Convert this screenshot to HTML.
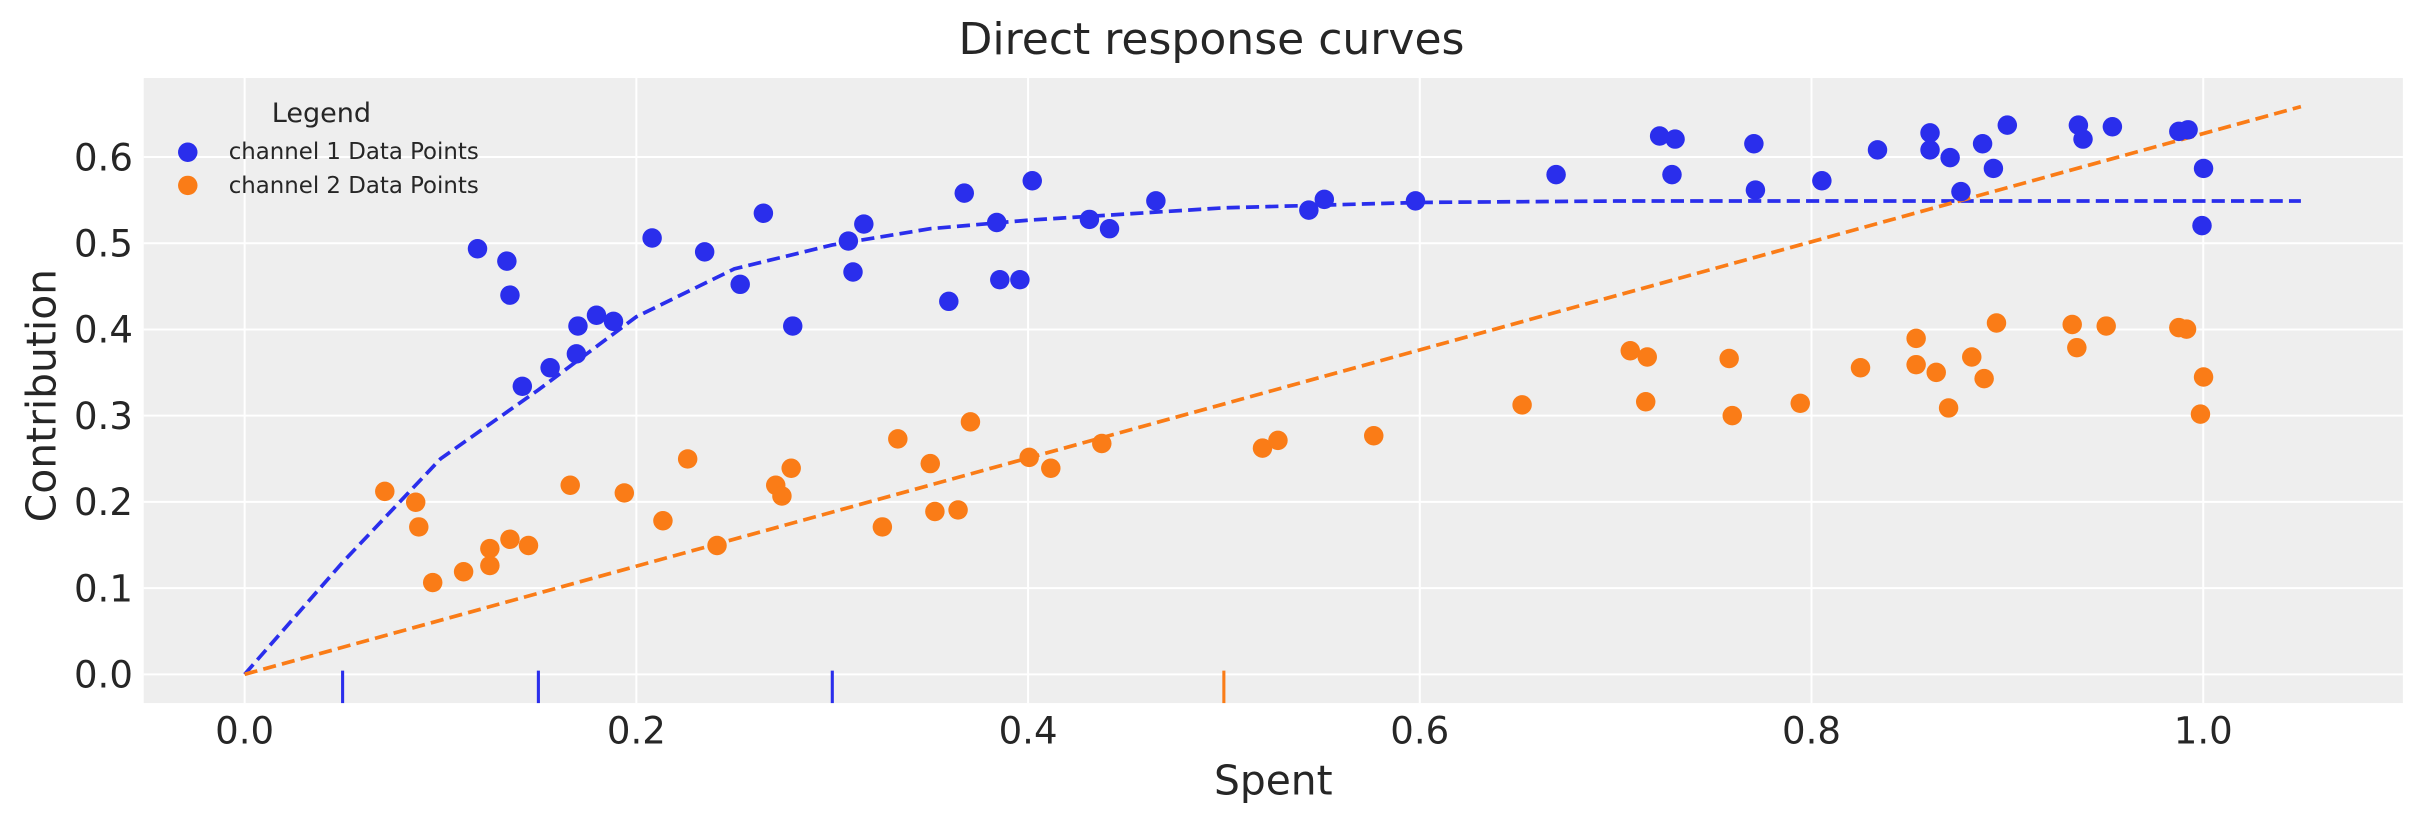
<!DOCTYPE html>
<html><head><meta charset="utf-8"><style>html,body{margin:0;padding:0;background:#fff}svg{display:block}</style></head>
<body>
<svg width="2423" height="823" viewBox="0 0 1568 532.6" xmlns="http://www.w3.org/2000/svg" font-family="'DejaVu Sans','Liberation Sans',sans-serif">
<rect x="0" y="0" width="1568" height="533" fill="#fff"/>
<rect x="93" y="50.5" width="1462" height="404.5" fill="#eeeeee"/>
<g stroke="#fff" stroke-width="1.3">
<line x1="158.3" y1="50.5" x2="158.3" y2="455"/><line x1="411.8" y1="50.5" x2="411.8" y2="455"/><line x1="665.3" y1="50.5" x2="665.3" y2="455"/><line x1="918.8" y1="50.5" x2="918.8" y2="455"/><line x1="1172.3" y1="50.5" x2="1172.3" y2="455"/><line x1="1425.8" y1="50.5" x2="1425.8" y2="455"/>
<line x1="93" y1="436.4" x2="1555" y2="436.4"/><line x1="93" y1="380.6" x2="1555" y2="380.6"/><line x1="93" y1="324.8" x2="1555" y2="324.8"/><line x1="93" y1="269" x2="1555" y2="269"/><line x1="93" y1="213.2" x2="1555" y2="213.2"/><line x1="93" y1="157.4" x2="1555" y2="157.4"/><line x1="93" y1="101.6" x2="1555" y2="101.6"/>
</g>
<g stroke-width="2">
<line x1="221.7" y1="434" x2="221.7" y2="455" stroke="#2a2eec"/><line x1="348.4" y1="434" x2="348.4" y2="455" stroke="#2a2eec"/><line x1="538.6" y1="434" x2="538.6" y2="455" stroke="#2a2eec"/><line x1="792" y1="434" x2="792" y2="455" stroke="#fa7c17"/>
</g>
<polyline fill="none" stroke="#2a2eec" stroke-width="2.4" stroke-dasharray="8.5,4" points="158.3,436.4 221.7,363.9 285.1,296.9 348.4,252.3 411.8,205 475.2,174 538.6,158.5 602,148 665.3,142.5 792,134.5 918.8,131 1045.5,130.1 1489,130.1"/>
<line x1="158.3" y1="436.4" x2="1489" y2="69" stroke="#fa7c17" stroke-width="2.4" stroke-dasharray="8.5,4"/>
<g fill="#2a2eec">
<circle cx="309" cy="161" r="6.3"/><circle cx="328" cy="169" r="6.3"/><circle cx="330" cy="191" r="6.3"/><circle cx="338" cy="250" r="6.3"/><circle cx="356" cy="238" r="6.3"/><circle cx="373" cy="229" r="6.3"/><circle cx="374" cy="211" r="6.3"/><circle cx="386" cy="204" r="6.3"/><circle cx="397" cy="208" r="6.3"/><circle cx="422" cy="154" r="6.3"/><circle cx="456" cy="163" r="6.3"/><circle cx="479" cy="184" r="6.3"/><circle cx="494" cy="138" r="6.3"/><circle cx="513" cy="211" r="6.3"/><circle cx="549" cy="156" r="6.3"/><circle cx="552" cy="176" r="6.3"/><circle cx="559" cy="145" r="6.3"/><circle cx="614" cy="195" r="6.3"/><circle cx="624" cy="125" r="6.3"/><circle cx="645" cy="144" r="6.3"/><circle cx="647" cy="181" r="6.3"/><circle cx="660" cy="181" r="6.3"/><circle cx="668" cy="117" r="6.3"/><circle cx="705" cy="142" r="6.3"/><circle cx="718" cy="148" r="6.3"/><circle cx="748" cy="130" r="6.3"/><circle cx="847" cy="136" r="6.3"/><circle cx="857" cy="129" r="6.3"/><circle cx="916" cy="130" r="6.3"/><circle cx="1007" cy="113" r="6.3"/><circle cx="1074" cy="88" r="6.3"/><circle cx="1082" cy="113" r="6.3"/><circle cx="1084" cy="90" r="6.3"/><circle cx="1135" cy="93" r="6.3"/><circle cx="1136" cy="123" r="6.3"/><circle cx="1179" cy="117" r="6.3"/><circle cx="1215" cy="97" r="6.3"/><circle cx="1249" cy="86" r="6.3"/><circle cx="1249" cy="97" r="6.3"/><circle cx="1262" cy="102" r="6.3"/><circle cx="1269" cy="124" r="6.3"/><circle cx="1283" cy="93" r="6.3"/><circle cx="1290" cy="109" r="6.3"/><circle cx="1299" cy="81" r="6.3"/><circle cx="1345" cy="81" r="6.3"/><circle cx="1348" cy="90" r="6.3"/><circle cx="1367" cy="82" r="6.3"/><circle cx="1410" cy="85" r="6.3"/><circle cx="1416" cy="84" r="6.3"/><circle cx="1426" cy="109" r="6.3"/><circle cx="1425" cy="146" r="6.3"/>
</g>
<g fill="#fa7c17">
<circle cx="249" cy="318" r="6.3"/><circle cx="269" cy="325" r="6.3"/><circle cx="271" cy="341" r="6.3"/><circle cx="280" cy="377" r="6.3"/><circle cx="300" cy="370" r="6.3"/><circle cx="317" cy="355" r="6.3"/><circle cx="317" cy="366" r="6.3"/><circle cx="330" cy="349" r="6.3"/><circle cx="342" cy="353" r="6.3"/><circle cx="369" cy="314" r="6.3"/><circle cx="404" cy="319" r="6.3"/><circle cx="429" cy="337" r="6.3"/><circle cx="445" cy="297" r="6.3"/><circle cx="464" cy="353" r="6.3"/><circle cx="502" cy="314" r="6.3"/><circle cx="506" cy="321" r="6.3"/><circle cx="512" cy="303" r="6.3"/><circle cx="571" cy="341" r="6.3"/><circle cx="581" cy="284" r="6.3"/><circle cx="602" cy="300" r="6.3"/><circle cx="605" cy="331" r="6.3"/><circle cx="620" cy="330" r="6.3"/><circle cx="628" cy="273" r="6.3"/><circle cx="666" cy="296" r="6.3"/><circle cx="680" cy="303" r="6.3"/><circle cx="713" cy="287" r="6.3"/><circle cx="817" cy="290" r="6.3"/><circle cx="827" cy="285" r="6.3"/><circle cx="889" cy="282" r="6.3"/><circle cx="985" cy="262" r="6.3"/><circle cx="1055" cy="227" r="6.3"/><circle cx="1066" cy="231" r="6.3"/><circle cx="1065" cy="260" r="6.3"/><circle cx="1119" cy="232" r="6.3"/><circle cx="1121" cy="269" r="6.3"/><circle cx="1165" cy="261" r="6.3"/><circle cx="1204" cy="238" r="6.3"/><circle cx="1240" cy="219" r="6.3"/><circle cx="1240" cy="236" r="6.3"/><circle cx="1253" cy="241" r="6.3"/><circle cx="1261" cy="264" r="6.3"/><circle cx="1276" cy="231" r="6.3"/><circle cx="1284" cy="245" r="6.3"/><circle cx="1292" cy="209" r="6.3"/><circle cx="1341" cy="210" r="6.3"/><circle cx="1344" cy="225" r="6.3"/><circle cx="1363" cy="211" r="6.3"/><circle cx="1410" cy="212" r="6.3"/><circle cx="1415" cy="213" r="6.3"/><circle cx="1426" cy="244" r="6.3"/><circle cx="1424" cy="268" r="6.3"/>
</g>
<g fill="#262626" font-size="24">
<g text-anchor="end"><text x="86" y="445">0.0</text><text x="86" y="389.2">0.1</text><text x="86" y="333.4">0.2</text><text x="86" y="277.6">0.3</text><text x="86" y="221.8">0.4</text><text x="86" y="166">0.5</text><text x="86" y="110.2">0.6</text></g>
<g text-anchor="middle"><text x="158.3" y="481">0.0</text><text x="411.8" y="481">0.2</text><text x="665.3" y="481">0.4</text><text x="918.8" y="481">0.6</text><text x="1172.3" y="481">0.8</text><text x="1425.8" y="481">1.0</text></g>
<text x="824" y="514" text-anchor="middle" font-size="26.4">Spent</text>
<text transform="translate(36,256) rotate(-90)" text-anchor="middle" font-size="26.4">Contribution</text>
<text x="784" y="35" text-anchor="middle" font-size="28.5">Direct response curves</text>
<text x="208" y="79" text-anchor="middle" font-size="17.5">Legend</text>
<text x="148" y="103" font-size="14.8">channel 1 Data Points</text>
<text x="148" y="125" font-size="14.8">channel 2 Data Points</text>
</g>
<circle cx="121.5" cy="98.5" r="6.3" fill="#2a2eec"/>
<circle cx="121.5" cy="120" r="6.3" fill="#fa7c17"/>
</svg>
</body></html>
